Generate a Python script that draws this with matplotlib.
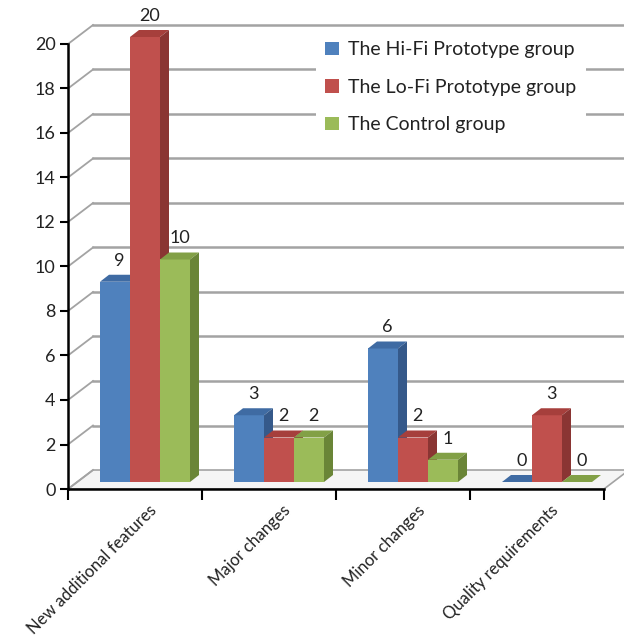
import numpy as np
import matplotlib
matplotlib.use("Agg")
import matplotlib.pyplot as plt
from matplotlib.patches import Polygon, Patch

plt.rcParams['font.family'] = ['Lato', 'DejaVu Sans']

categories = ['New additional features', 'Major changes', 'Minor changes', 'Quality requirements']
series_names = ['The Hi-Fi Prototype group', 'The Lo-Fi Prototype group', 'The Control group']
hifi = [9, 3, 6, 0]
lofi = [20, 2, 2, 3]
control = [10, 2, 1, 0]
yticks = [0, 2, 4, 6, 8, 10, 12, 14, 16, 18, 20]

front_cols = ['#4F81BD', '#C0504D', '#9BBB59']
top_cols = ['#3F6BA3', '#A63F3C', '#82A046']
side_cols = ['#35598A', '#8A3533', '#6A8537']

fig = plt.figure(figsize=(6.24, 6.44), dpi=100)
ax = fig.add_axes([68/624, 1-489/644, (604-68)/624, (489-44)/644])
ax.set_xlim(-0.5, 3.5)
ax.set_ylim(0, 20)

# pixel -> data scale
ux = 4/536.
uy = 20/445.
DX, DY = 25*ux, 19*uy      # back wall depth
bx, by = 9*ux, 7*uy        # bar front offset
dx, dy = 9*ux, 7*uy        # bar depth
shift = 10*ux
w = 30*ux

grid_col = '#a3a3a3'
# floor
floor = Polygon([(-0.5, 0), (3.5, 0), (3.5+DX, DY), (-0.5+DX, DY)], closed=True,
                facecolor='#f5f5f5', edgecolor=grid_col, lw=1.2, clip_on=False, zorder=1)
ax.add_patch(floor)
# back wall grid + side diagonals
for t in yticks:
    if t > 0:
        ax.plot([-0.5+DX, 3.5+DX], [t+DY, t+DY], color=grid_col, lw=1.8, clip_on=False, zorder=1)
    ax.plot([-0.5, -0.5+DX], [t, t+DY], color=grid_col, lw=1.3, clip_on=False, zorder=1)

x = np.arange(len(categories))
data = [hifi, lofi, control]
for k, vals in enumerate(data):
    xs = x + shift + (k-1)*w
    ax.bar(xs, vals, width=w, bottom=by, color=front_cols[k], zorder=3+k, clip_on=False)
    for xi, v in zip(xs, vals):
        x0, x1 = xi - w/2, xi + w/2
        top = by + v
        ax.add_patch(Polygon([(x0, top), (x1, top), (x1+dx, top+dy), (x0+dx, top+dy)],
                             closed=True, facecolor=top_cols[k], edgecolor='none',
                             zorder=3+k, clip_on=False))
        if v > 0:
            ax.add_patch(Polygon([(x1, by), (x1+dx, by+dy), (x1+dx, top+dy), (x1, top)],
                                 closed=True, facecolor=side_cols[k], edgecolor='none',
                                 zorder=3+k, clip_on=False))
        ax.text(xi + dx/2, top + dy + 6*uy, str(v), ha='center', va='bottom',
                fontsize=13, color='#222222', zorder=10)

for s in ['top', 'right']:
    ax.spines[s].set_visible(False)
for s in ['left', 'bottom']:
    ax.spines[s].set_linewidth(1.8)
    ax.spines[s].set_zorder(8)

ax.set_yticks(yticks)
ax.set_yticklabels([str(t) for t in yticks])
ax.tick_params(axis='y', length=6, width=1.5, pad=3, labelsize=13, labelcolor='#222222')

ax.set_xticks(x)
ax.set_xticklabels([])
ax.tick_params(axis='x', which='major', length=0)
ax.set_xticks([-0.5, 0.5, 1.5, 2.5, 3.5], minor=True)
ax.tick_params(axis='x', which='minor', length=8, width=1.5)
for i, c in enumerate(categories):
    ax.text(i + 0.1, -0.6, c, rotation=45, ha='right', va='top',
            rotation_mode='anchor', fontsize=12, color='#222222')

handles = [Patch(facecolor=front_cols[k], edgecolor='none') for k in range(3)]
leg = fig.legend(handles, series_names, loc='upper left', bbox_to_anchor=(306/624, 1-22/644),
                 fontsize=14, frameon=True, fancybox=False, framealpha=1,
                 facecolor='white', edgecolor='none', handlelength=0.7, handleheight=0.7,
                 handletextpad=0.45, labelspacing=1.05, borderpad=0.5)
for t in leg.get_texts():
    t.set_color('#222222')

fig.savefig('out.png', dpi=100)
